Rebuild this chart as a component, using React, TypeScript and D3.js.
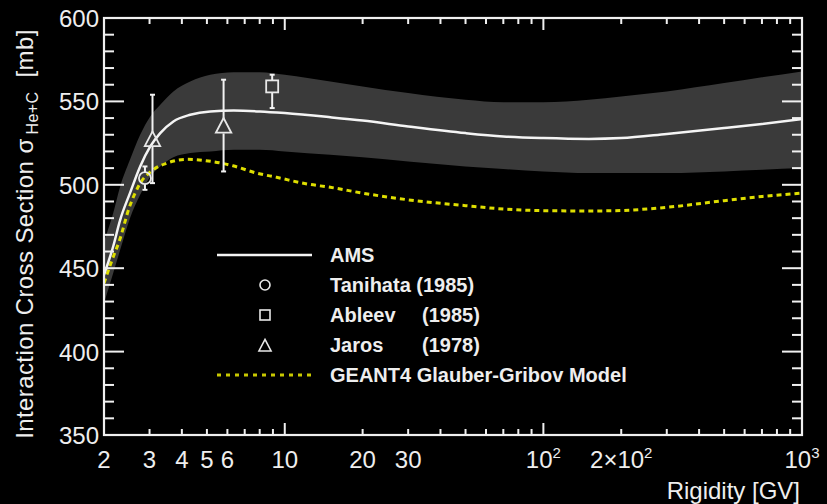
import React from "react";
import * as d3 from "d3";

// ---- data ----
const amsR = [2, 2.17, 2.31, 2.52, 2.76, 3.02, 3.3, 3.71, 4.31, 5.15, 6.35, 8, 10, 15, 20, 30, 50, 70, 100, 150, 200, 300, 500, 700, 1000];
const amsValue = [446, 463, 479, 495, 511, 523, 531, 538, 542, 544, 544.5, 544, 543, 540.5, 538.5, 535, 531, 529, 528, 527.5, 528, 530.5, 534, 536.5, 539.5];
const amsUpper = [466, 483, 499, 515, 530, 541, 548, 556, 562, 566, 567.5, 567.5, 566, 562, 559, 555, 551, 549.5, 549.5, 551, 553, 556, 561, 564.5, 568];
const amsLower = [429, 447, 461, 480, 494, 505, 511, 516.5, 519, 520, 521, 521, 520, 518, 516.5, 514, 511, 509.5, 508, 507, 507, 507, 508, 509, 510];

const geantR = [2, 2.15, 2.3, 2.5, 2.75, 3.1, 3.5, 4.2, 5.2, 6.3, 7.8, 9.3, 12.2, 15, 20, 30, 50, 70, 100, 150, 200, 300, 500, 700, 1000];
const geantValue = [441, 455, 467, 486, 500.5, 509, 513, 515.3, 514, 511.4, 507, 504.5, 500.5, 498.5, 495, 491, 487.5, 485.5, 484.5, 484.3, 484.6, 486.5, 490.5, 493, 495];

const tanihataR = [2.88];
const tanihataValue = [504];
const tanihataLo = [497];
const tanihataHi = [511];

const ableevR = [8.94];
const ableevValue = [559];
const ableevLo = [546];
const ableevHi = [566];

const jarosR = [3.08, 5.8];
const jarosValue = [527, 535];
const jarosLo = [501, 508];
const jarosHi = [554, 563];

const xLabelValues = [2, 3, 4, 5, 6, 10, 20, 30, 100, 200, 1000];
const xLabelBase = ["2", "3", "4", "5", "6", "10", "20", "30", "10", "2×10", "10"];
const xLabelExp = ["", "", "", "", "", "", "", "", "2", "2", "3"];
const yLabelValues = [350, 400, 450, 500, 550, 600];

const legendNames = ["AMS", "Tanihata (1985)", "Ableev", "Jaros", "GEANT4 Glauber-Gribov Model"];
const legendYears = ["", "", "(1985)", "(1978)", ""];

// ---- layout ----
const W = 827, H = 504;
const L = 104, R = 802, T = 18, B = 435;
const FONT = "'Liberation Sans', Arial, Helvetica, sans-serif";
const YELLOW = "#dede00";

export default function App() {
  const x = d3.scaleLog().domain([2, 1000]).range([L, R]);
  const y = d3.scaleLinear().domain([350, 600]).range([B, T]);

  const allXTicks = x.ticks();
  const isMajorX = (v: number) => Math.abs(Math.log10(v) - Math.round(Math.log10(v))) < 1e-9;
  const yMinor = d3.range(350, 601, 10);

  const idx = amsR.map((_, i) => i);
  const band = d3.area<number>()
    .x((i) => x(amsR[i]))
    .y0((i) => y(amsLower[i]))
    .y1((i) => y(amsUpper[i]))
    .curve(d3.curveMonotoneX)(idx) as string;
  const amsLine = d3.line<number>()
    .x((i) => x(amsR[i]))
    .y((i) => y(amsValue[i]))
    .curve(d3.curveMonotoneX)(idx) as string;
  const geantLine = d3.line<number>()
    .x((i) => x(geantR[i]))
    .y((i) => y(geantValue[i]))
    .curve(d3.curveMonotoneX)(geantR.map((_, i) => i)) as string;

  const errBar = (cx: number, lo: number, hi: number, cy: number, gap: number, key: string) => (
    <g key={key} stroke="#f2f2f2" strokeWidth={2}>
      <line x1={cx} x2={cx} y1={y(hi)} y2={cy - gap} />
      <line x1={cx} x2={cx} y1={cy + gap} y2={y(lo)} />
      <line x1={cx - 2.5} x2={cx + 2.5} y1={y(hi)} y2={y(hi)} />
      <line x1={cx - 2.5} x2={cx + 2.5} y1={y(lo)} y2={y(lo)} />
    </g>
  );
  const tri = (cx: number, cy: number, s: number) =>
    `M${cx},${cy - s * 0.6} L${cx + s * 0.55},${cy + s * 0.45} L${cx - s * 0.55},${cy + s * 0.45} Z`;

  const legX1 = 217, legX2 = 312, legSym = 265, legText = 330, legYear = 422;
  const legY = (i: number) => 255 + i * 30;

  return (
    <svg width={W} height={H} style={{ display: "block", position: "absolute", left: 0, top: 0, background: "#000" }}>
      <rect x={0} y={0} width={W} height={H} fill="#000" />
      <defs>
        <clipPath id="plotclip">
          <rect x={L} y={T} width={R - L} height={B - T} />
        </clipPath>
      </defs>

      <g clipPath="url(#plotclip)">
        <path d={band} fill="#3a3a3a" />
        <path d={geantLine} fill="none" stroke={YELLOW} strokeWidth={3} strokeDasharray="5 4" />
        <path d={amsLine} fill="none" stroke="#f4f4f4" strokeWidth={2.5} />
      </g>

      {/* data points */}
      {tanihataR.map((r, i) => {
        const cx = x(r), cy = y(tanihataValue[i]);
        return (
          <g key={"t" + i}>
            {errBar(cx, tanihataLo[i], tanihataHi[i], cy, 6, "te" + i)}
            <circle cx={cx} cy={cy} r={6} fill="none" stroke="#e8e8e8" strokeWidth={1.8} />
          </g>
        );
      })}
      {ableevR.map((r, i) => {
        const cx = x(r), cy = y(ableevValue[i]);
        return (
          <g key={"a" + i}>
            {errBar(cx, ableevLo[i], ableevHi[i], cy, 6, "ae" + i)}
            <rect x={cx - 6} y={cy - 6} width={12} height={12} fill="none" stroke="#e8e8e8" strokeWidth={1.8} />
          </g>
        );
      })}
      {jarosR.map((r, i) => {
        const cx = x(r), cy = y(jarosValue[i]);
        return (
          <g key={"j" + i}>
            {errBar(cx, jarosLo[i], jarosHi[i], cy, 7, "je" + i)}
            <path d={tri(cx, cy, 14)} fill="none" stroke="#e8e8e8" strokeWidth={1.8} />
          </g>
        );
      })}

      {/* frame */}
      <rect x={L} y={T} width={R - L} height={B - T} fill="none" stroke="#f0f0f0" strokeWidth={2.2} />

      {/* x ticks */}
      {allXTicks.map((v, i) => {
        const len = isMajorX(v) ? 12 : 6;
        const px = x(v);
        return (
          <g key={"xt" + i} stroke="#f0f0f0" strokeWidth={2}>
            <line x1={px} x2={px} y1={B} y2={B - len} />
            <line x1={px} x2={px} y1={T} y2={T + len} />
          </g>
        );
      })}
      {/* y ticks */}
      {yMinor.map((v, i) => {
        const len = v % 50 === 0 ? 20 : 10;
        const py = y(v);
        return (
          <g key={"yt" + i} stroke="#f0f0f0" strokeWidth={2}>
            <line x1={L} x2={L + len} y1={py} y2={py} />
            <line x1={R} x2={R - len} y1={py} y2={py} />
          </g>
        );
      })}

      {/* x labels */}
      {xLabelValues.map((v, i) => (
        <text key={"xl" + i} x={x(v)} y={468} fill="#eeeeee" fontFamily={FONT} fontSize={24} textAnchor="middle">
          {xLabelBase[i]}
          {xLabelExp[i] ? (
            <tspan fontSize={15} dy={-10}>{xLabelExp[i]}</tspan>
          ) : null}
        </text>
      ))}
      {/* y labels */}
      {yLabelValues.map((v, i) => (
        <text key={"yl" + i} x={99} y={y(v) + 9} fill="#eeeeee" fontFamily={FONT} fontSize={24} textAnchor="end">
          {v}
        </text>
      ))}

      {/* axis titles */}
      <text x={800} y={499} fill="#eeeeee" fontFamily={FONT} fontSize={24} textAnchor="end">Rigidity [GV]</text>
      <text transform="translate(33,234) rotate(-90)" fill="#eeeeee" fontFamily={FONT} fontSize={24} textAnchor="middle" letterSpacing={0.4}>
        Interaction Cross Section σ
        <tspan fontSize={16} dx={4} dy={5}>He+C</tspan>
        <tspan dx={14} dy={-5}>[mb]</tspan>
      </text>

      {/* legend */}
      <line x1={legX1} x2={legX2} y1={legY(0)} y2={legY(0)} stroke="#f4f4f4" strokeWidth={2.5} />
      <circle cx={legSym} cy={legY(1)} r={5} fill="none" stroke="#e8e8e8" strokeWidth={1.6} />
      <rect x={legSym - 5} y={legY(2) - 5} width={10} height={10} fill="none" stroke="#e8e8e8" strokeWidth={1.6} />
      <path d={tri(legSym, legY(3) + 1, 11)} fill="none" stroke="#e8e8e8" strokeWidth={1.6} />
      <line x1={legX1} x2={legX2} y1={legY(4)} y2={legY(4)} stroke="#c8c800" strokeWidth={3} strokeDasharray="4 5" />
      {legendNames.map((n, i) => (
        <g key={"lg" + i}>
          <text x={legText} y={legY(i) + 7} fill="#eeeeee" fontFamily={FONT} fontSize={20} fontWeight="bold">{n}</text>
          {legendYears[i] ? (
            <text x={legYear} y={legY(i) + 7} fill="#eeeeee" fontFamily={FONT} fontSize={20} fontWeight="bold">{legendYears[i]}</text>
          ) : null}
        </g>
      ))}
    </svg>
  );
}
